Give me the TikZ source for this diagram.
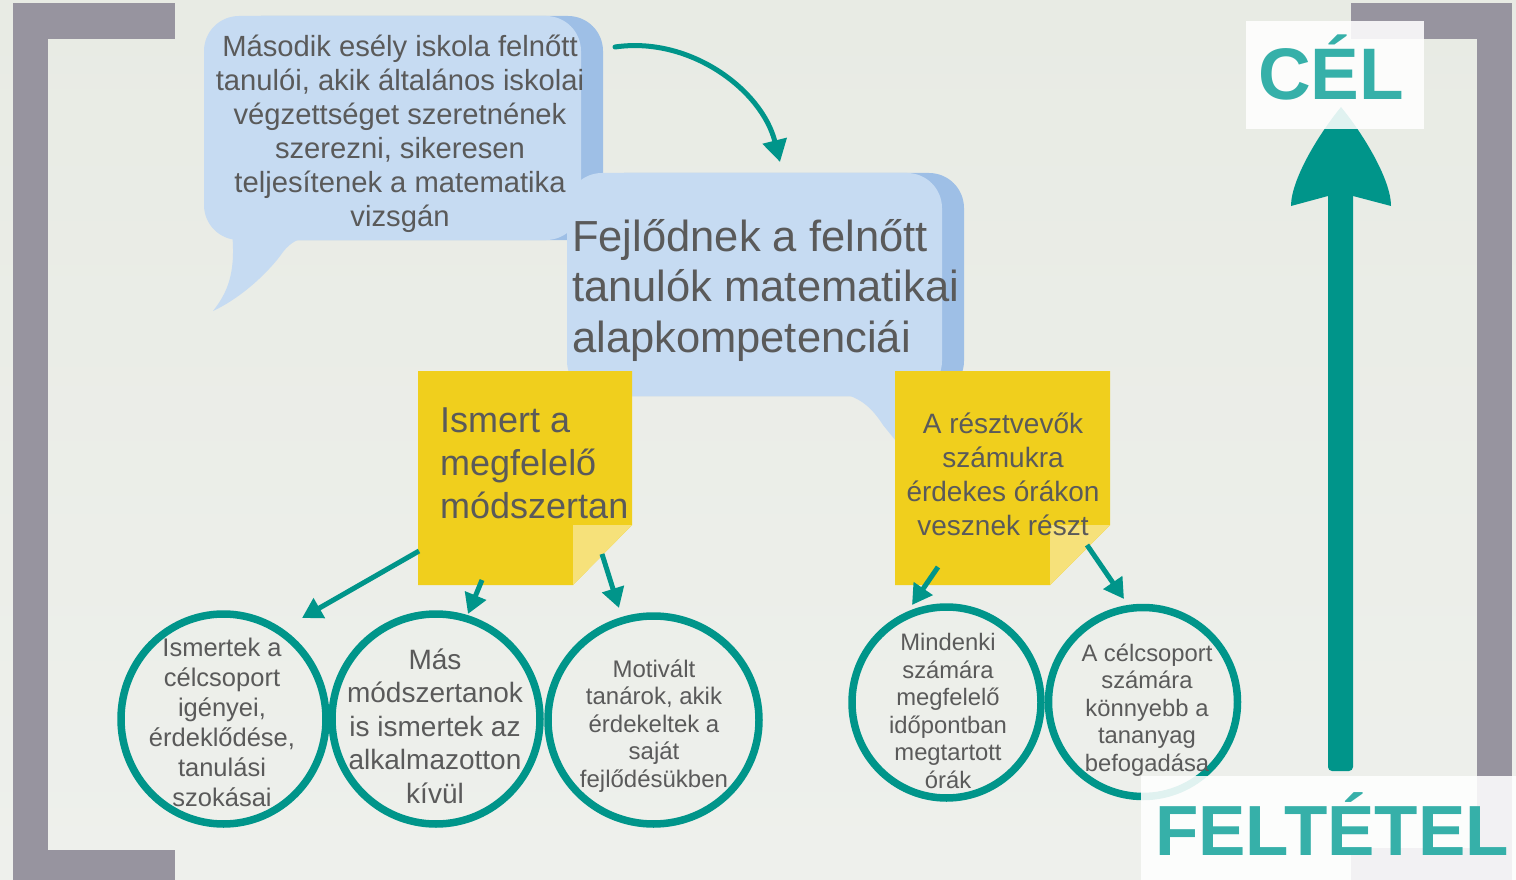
\documentclass[tikz,border=0pt]{standalone}
\usepackage{fontspec}
\setmainfont{Liberation Sans}
\usetikzlibrary{arrows.meta,shapes.geometric,calc}
\definecolor{bgtop}{HTML}{E8EBE4}
\definecolor{bgbot}{HTML}{EEF0EC}
\definecolor{brk}{HTML}{97949F}
\definecolor{tealA}{HTML}{00958A}
\definecolor{tealT}{HTML}{36B0A9}
\definecolor{blueL}{HTML}{C6DBF2}
\definecolor{blueD}{HTML}{9EBFE6}
\definecolor{yel}{HTML}{F0CF1D}
\definecolor{yelL}{HTML}{F6E17A}
\definecolor{txtc}{HTML}{5A5A5A}
\begin{document}
\begin{tikzpicture}[x=1pt,y=-1pt,
  bracketbar/.style={fill=brk},
  ring/.style={ellipse, draw=tealA, line width=7.5pt, inner sep=0pt},
  conn/.style={draw=tealA, line width=5pt, -{Triangle[length=20pt,width=22pt]}},
  plain/.style={text=txtc, inner sep=0pt},
  tag/.style={text=tealT, inner sep=0pt, font=\fontsize{73}{73}\selectfont\bfseries},
  veil/.style={fill=white, fill opacity=0.88}
]
\useasboundingbox (0,0) rectangle (1516,880);
\shade[top color=bgtop, bottom color=bgbot] (0,0) rectangle (1516,880);

% brackets
\fill[bracketbar] (13,3) rectangle (175,39);
\fill[bracketbar] (13,3) rectangle (48,880);
\fill[bracketbar] (13,850) rectangle (175,880);
\fill[bracketbar] (1351,3) rectangle (1512,39);
\fill[bracketbar] (1477,3) rectangle (1512,880);
\fill[bracketbar] (1351,848) rectangle (1512,880);

% bubble 1
\fill[blueD, rounded corners=35pt] (226,16) rectangle (603,240);
\fill[blueL, rounded corners=35pt] (204,16) rectangle (581,240);
\fill[blueL] (232,232) .. controls (236,272) and (228,292) .. (213,311)
  .. controls (245,296) and (272,268) .. (283,252)
  .. controls (290,243) and (298,238) .. (312,236) -- cycle;
\node[plain, align=center, font=\fontsize{29.2}{34}\selectfont] (b1) at (400,134)
  {Második esély iskola felnőtt\\tanulói, akik általános iskolai\\végzettséget szeretnének\\szerezni, sikeresen\\teljesítenek a matematika\\vizsgán};

% top curved arrow
\coordinate (t1s) at (615,47);
\coordinate (t1e) at (780,162);
\draw[conn, line cap=round, -{Triangle[length=22pt,width=24pt]}] (t1s) .. controls (690,36) and (762,90) .. (t1e);

% bubble 2
\fill[blueD, rounded corners=35pt] (589,173) rectangle (964,396);
\fill[blueL, rounded corners=35pt] (567,173) rectangle (942,396);
\fill[blueL] (835,392) .. controls (860,396) and (872,408) .. (883,425)
  -- (900,446) -- (925,392) -- cycle;
\node[plain, align=left, anchor=west, font=\fontsize{43.5}{50.5}\selectfont] (b2) at (572,290)
  {Fejlődnek a felnőtt\\tanulók matematikai\\alapkompetenciái};

% note 1
\fill[yel] (418,371) -- (632,371) -- (632,525) -- (573,585) -- (418,585) -- cycle;
\fill[yelL] (573,525) -- (632,525) -- (573,585) -- cycle;
\node[plain, align=left, anchor=west, font=\fontsize{36}{43}\selectfont] (n1) at (440,463)
  {Ismert a\\megfelelő\\módszertan};

% note 2
\fill[yel] (895,371) -- (1110,371) -- (1110,525) -- (1050,585) -- (895,585) -- cycle;
\fill[yelL] (1050,525) -- (1110,525) -- (1050,585) -- cycle;
\node[plain, align=center, font=\fontsize{28}{34}\selectfont] (n2) at (1003,474)
  {A résztvevők\\számukra\\érdekes órákon\\vesznek részt};

% circles
\node[ring, minimum width=205pt, minimum height=210pt] (c1) at (223.5,719) {};
\node[ring, minimum width=208pt, minimum height=210pt] (c2) at (436,719) {};
\node[ring, minimum width=211pt, minimum height=208pt] (c3) at (653.5,720) {};
\node[ring, minimum width=189pt, minimum height=191pt] (c4) at (946.5,702.5) {};
\node[ring, minimum width=189pt, minimum height=189pt] (c5) at (1143,702) {};

\node[plain, align=center, font=\fontsize{25.5}{30}\selectfont] (c1t) at (222,722)
  {Ismertek a\\célcsoport\\igényei,\\érdeklődése,\\tanulási\\szokásai};
\node[plain, align=center, font=\fontsize{28}{33.5}\selectfont] (c2t) at (435,726)
  {Más\\módszertanok\\is ismertek az\\alkalmazotton\\kívül};
\node[plain, align=center, font=\fontsize{24}{27.5}\selectfont] (c3t) at (654,726)
  {Motivált\\tanárok, akik\\érdekeltek a\\saját\\fejlődésükben};
\node[plain, align=center, font=\fontsize{23.8}{27.5}\selectfont] (c4t) at (948,711)
  {Mindenki\\számára\\megfelelő\\időpontban\\megtartott\\órák};
\node[plain, align=center, font=\fontsize{23.8}{27.5}\selectfont] (c5t) at (1147,710)
  {A célcsoport\\számára\\könnyebb a\\tananyag\\befogadása};

% small arrows
\coordinate (n1a) at (419,551);
\coordinate (n1b) at (482,580);
\coordinate (n1c) at (602,554);
\coordinate (n2a) at (938,567);
\coordinate (n2b) at (1087,545);
\coordinate (c1in) at (302,618);
\coordinate (c2in) at (468,614);
\coordinate (c3in) at (619,608);
\coordinate (c4in) at (912,605);
\coordinate (c5in) at (1124,599);
\draw[conn] (n1a) -- (c1in);
\draw[conn] (n1b) -- (c2in);
\draw[conn] (n1c) -- (c3in);
\draw[conn] (n2a) -- (c4in);
\draw[conn] (n2b) -- (c5in);

% big upward arrow
\fill[tealA, rounded corners=4pt] (1328,190) rectangle (1353,771);
\fill[tealA] (1341,107) .. controls (1318,135) and (1291,180) .. (1291,206)
  -- (1328,196) -- (1353,196) -- (1391,206)
  .. controls (1391,180) and (1364,135) .. (1341,107) -- cycle;

% labels
\fill[veil] (1246,21) rectangle (1424,129);
\node[tag, anchor=base] (cel) at (1331,100) {CÉL};
\fill[veil] (1141,776) rectangle (1516,880);
\node[tag, anchor=base west, font=\fontsize{71}{71}\selectfont\bfseries] (felt) at (1155,855) {FELTÉTEL};
\end{tikzpicture}
\end{document}
